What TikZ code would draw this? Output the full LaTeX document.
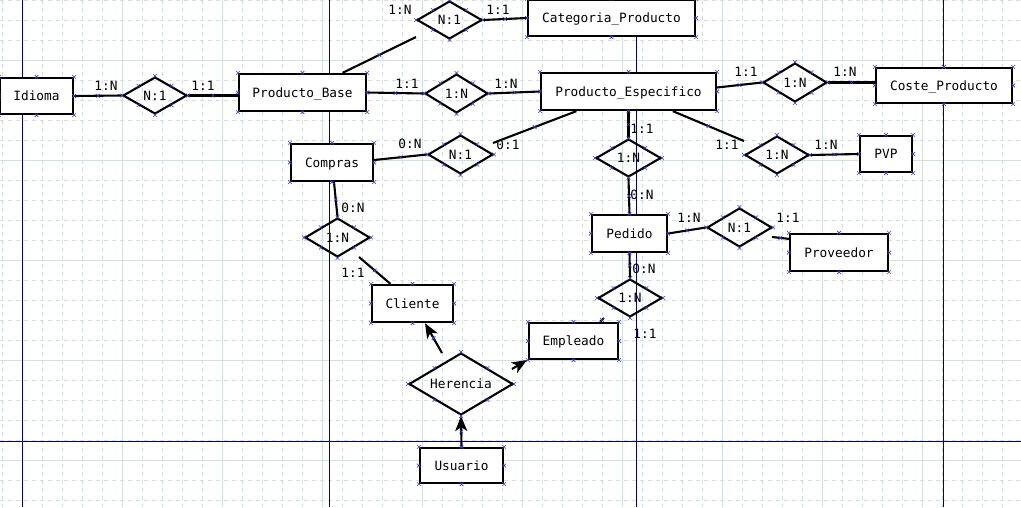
\documentclass[tikz,border=0pt]{standalone}
\usepackage{fontspec}
\setmonofont{DejaVu Sans Mono}
\usetikzlibrary{shapes.geometric,shapes.misc,arrows.meta,calc}
\definecolor{gridc}{RGB}{208,225,222}
\definecolor{pagec}{RGB}{0,0,130}
\definecolor{xmc}{RGB}{60,60,220}
\begin{document}
\begin{tikzpicture}[x=1pt,y=-1pt,
  lbl/.style={font=\ttfamily\fontsize{12.8}{15}\selectfont,inner sep=0pt,text height=9.3pt,text depth=0pt},
  ent/.style={lbl,draw,fill=white,line width=2.3pt,rectangle},
  rel/.style={lbl,draw,line width=2.1pt,diamond,shape aspect=1.7},
  card/.style={lbl},
  conn/.style={line width=2.1pt},
  isa/.style={line width=2.1pt,-{Stealth[length=15pt,width=12pt,inset=4pt]}},
  xn/.style={draw=xmc,cross out,line width=0.6pt,minimum size=3.6pt,inner sep=0pt,outer sep=0pt},
  gridd/.style={gridc,line width=0.9pt,dash pattern=on 4pt off 4pt},
  grids/.style={gridc,line width=0.9pt},
  page/.style={pagec,line width=0.9pt}
]
\useasboundingbox (0,0) rectangle (1021,507);
\fill[white] (0,0) rectangle (1021,507);
% grid
\foreach \x in {2,22,...,1012} \draw[gridd] (\x,0) -- (\x,507);
\foreach \y in {0,20,...,500} \draw[gridd] (0,\y) -- (1021,\y);
\foreach \x in {22,122,...,922} \draw[grids] (\x,0) -- (\x,507);
\foreach \y in {60,160,...,460} \draw[grids] (0,\y) -- (1021,\y);
% page breaks
\foreach \x in {22,329,636,943} \draw[page] (\x,0) -- (\x,507);
\draw[page] (0,441) -- (1021,441);

% entities
\node[ent,minimum width=73pt,minimum height=36pt] (Idi) at (36.5,96) {Idioma};
\node[ent,minimum width=127pt,minimum height=37pt] (PB) at (302.5,92.5) {Producto\_Base};
\node[ent,minimum width=167pt,minimum height=36pt] (CP) at (611.5,18) {Categoria\_Producto};
\node[ent,minimum width=175pt,minimum height=37pt] (PE) at (628.5,91.5) {Producto\_Especifico};
\node[ent,minimum width=136pt,minimum height=35pt] (CoP) at (944,85.5) {Coste\_Producto};
\node[ent,minimum width=52pt,minimum height=36pt] (PVP) at (886,154) {PVP};
\node[ent,minimum width=82pt,minimum height=37pt] (Com) at (332,162.5) {Compras};
\node[ent,minimum width=75pt,minimum height=37pt] (Ped) at (629.5,233.5) {Pedido};
\node[ent,minimum width=98pt,minimum height=37pt] (Prov) at (839,252.5) {Proveedor};
\node[ent,minimum width=81pt,minimum height=37pt] (Cli) at (412.5,303.5) {Cliente};
\node[ent,minimum width=89pt,minimum height=36pt] (Emp) at (573.5,341) {Empleado};
\node[ent,minimum width=83pt,minimum height=35pt] (Usu) at (461.5,465.5) {Usuario};

% relationships
\node[rel,minimum width=64pt,minimum height=37pt] (d1) at (155,95.5) {N:1};
\node[rel,minimum width=65pt,minimum height=38pt] (d2) at (449.5,20) {N:1};
\node[rel,minimum width=63pt,minimum height=39pt] (d3) at (456.5,93.5) {1:N};
\node[rel,minimum width=64pt,minimum height=39pt] (d4) at (795,82.5) {1:N};
\node[rel,minimum width=64pt,minimum height=38pt] (d5) at (777,155) {1:N};
\node[rel,minimum width=65pt,minimum height=39pt] (d6) at (460.5,154.5) {N:1};
\node[rel,minimum width=65pt,minimum height=38pt] (d7) at (628.5,158) {1:N};
\node[rel,minimum width=65pt,minimum height=39pt] (d8) at (337.5,237.5) {1:N};
\node[rel,minimum width=65pt,minimum height=39pt] (d9) at (739.5,227.5) {N:1};
\node[rel,minimum width=64pt,minimum height=38pt] (d10) at (630,298) {1:N};
\node[rel,minimum width=104pt,minimum height=62pt] (Her) at (461,384) {Herencia};

% free ends
\coordinate (e1) at (416,37);
\coordinate (e2) at (744,141);
\coordinate (e3) at (493,143);
\coordinate (e4) at (359,257);
\coordinate (e5) at (772,237);
\coordinate (e6) at (604,318);
\coordinate (h1) at (442,353);
\coordinate (h2) at (512,369);
\coordinate (h3) at (527,360);

% connectors
\draw[conn] (Idi.east) -- node[xn,pos=0.5]{} (d1.west);
\draw[conn] (d1.east) -- node[xn,pos=0.5]{} (d1.east -| PB.west);
\draw[conn] (PB.east) -- node[xn,pos=0.5]{} (d3.west);
\draw[conn] (d3.east) -- node[xn,pos=0.5]{} (PE.west);
\draw[conn] (d2.east) -- node[xn,pos=0.5]{} (CP.west);
\draw[conn] ($(PB.north east)!0.19!(PB.north west)$) -- node[xn,pos=0.5]{} (e1);
\draw[conn] ([yshift=4pt]PE.east) -- node[xn,pos=0.5]{} (d4.west);
\draw[conn] (d4.east) -- node[xn,pos=0.5]{} (d4.east -| CoP.west);
\draw[conn] ($(PE.south west)!0.75!(PE.south east)$) -- node[xn,pos=0.5]{} (e2);
\draw[conn] (d5.east) -- node[xn,pos=0.5]{} (PVP.west);
\draw[conn] ([yshift=2.5pt]Com.east) -- node[xn,pos=0.5]{} (d6.west);
\draw[conn] (e3) -- node[xn,pos=0.5]{} ($(PE.south west)!0.206!(PE.south east)$);
\draw[conn] ([xshift=2pt]Com.south) -- node[xn,pos=0.5]{} (d8.north);
\draw[conn] (e4) -- node[xn,pos=0.5]{} ($(Cli.north west)!0.235!(Cli.north east)$);
\draw[conn] (PE.south) -- node[xn,pos=0.5]{} (d7.north);
\draw[conn] (d7.south) -- node[xn,pos=0.5]{} (Ped.north);
\draw[conn] (Ped.east) -- node[xn,pos=0.5]{} (d9.west);
\draw[conn] (e5) -- node[xn,pos=0.5]{} ($(Prov.north west)+(0,6)$);
\draw[conn] (Ped.south) -- node[xn,pos=0.5]{} (d10.north);
\draw[conn] ($(Emp.north west)!0.79!(Emp.north east)$) -- node[xn,pos=0.5]{} (e6);
\draw[isa] (h1) -- node[xn,pos=0.5]{} ($(Cli.south west)!0.65!(Cli.south east)$);
\draw[isa] (h2) -- (h3);
\draw[isa] (Usu.north) -- node[xn,pos=0.5]{} (Her.south);

% cardinalities
\node[card] (c1) at (106,86) {1:N};
\node[card] (c2) at (203,86) {1:1};
\node[card] (c3) at (400,10) {1:N};
\node[card] (c4) at (498,10) {1:1};
\node[card] (c5) at (407,84) {1:1};
\node[card] (c6) at (506,84) {1:N};
\node[card] (c7) at (746,72) {1:1};
\node[card] (c8) at (845,72) {1:N};
\node[card] (c9) at (727,145) {1:1};
\node[card] (c10) at (826,145) {1:N};
\node[card] (c11) at (410,144) {0:N};
\node[card] (c12) at (508,145) {0:1};
\node[card] (c13) at (353,208) {0:N};
\node[card] (c14) at (353,273) {1:1};
\node[card] (c15) at (642,129) {1:1};
\node[card] (c16) at (642,195) {0:N};
\node[card] (c17) at (689,218) {1:N};
\node[card] (c18) at (788,218) {1:1};
\node[card] (c19) at (644,269) {0:N};
\node[card] (c20) at (645,334) {1:1};

% connection point marks
\foreach \n in {Idi,PB,CP,PE,CoP,PVP,Com,Ped,Prov,Cli,Emp,Usu}{
  \foreach \a in {north west,north,north east,east,south east,south,south west,west}{
    \node[xn] at (\n.\a) {};
  }
}
\foreach \n in {d1,d2,d3,d4,d5,d6,d7,d8,d9,d10,Her}{
  \foreach \a in {north,east,south,west}{
    \node[xn] at (\n.\a) {};
  }
  \node[xn] at ($(\n.north)!0.5!(\n.east)$) {};
  \node[xn] at ($(\n.east)!0.5!(\n.south)$) {};
  \node[xn] at ($(\n.south)!0.5!(\n.west)$) {};
  \node[xn] at ($(\n.west)!0.5!(\n.north)$) {};
}
\end{tikzpicture}
\end{document}
